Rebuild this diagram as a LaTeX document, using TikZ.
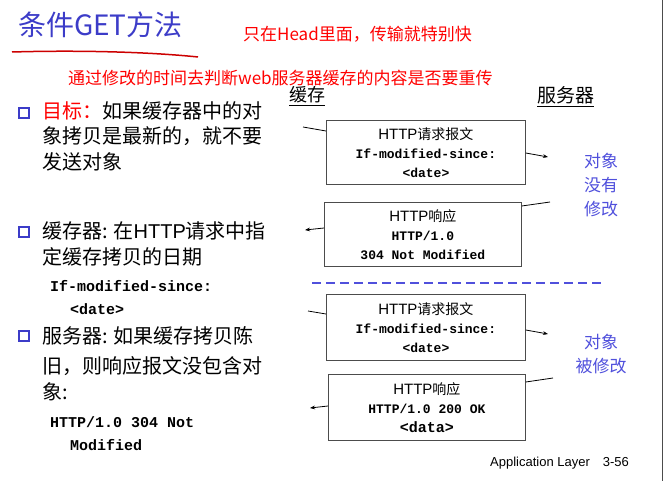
\documentclass[tikz,border=0pt]{standalone}
\usepackage{fontspec}
\setmainfont{Noto Sans CJK SC}
\newfontfamily\hv{Liberation Sans}
\newfontfamily\mono{Liberation Mono}
\usetikzlibrary{arrows.meta}
\definecolor{tblue}{RGB}{60,60,200}
\definecolor{lblue}{RGB}{80,80,220}
\begin{document}
\begin{tikzpicture}[x=1pt,y=-1pt,
  txt/.style={anchor=base west,inner sep=0pt,font=\fontsize{20}{20}\selectfont},
  mtxt/.style={anchor=base west,inner sep=0pt,font=\mono\bfseries\fontsize{15}{15}\selectfont},
  msg/.style={draw=black!70,thick,minimum width=199pt,minimum height=64pt,align=center,inner sep=0pt,font=\fontsize{13}{19}\selectfont},
  ln/.style={black,thick},
  ar/.style={black,thick,-{Stealth[length=5pt]}},
  bul/.style={draw=tblue,line width=1.6pt,minimum size=10pt,inner sep=0pt}]
\useasboundingbox (0,0) rectangle (664,481);
\draw[black!70] (662,0) -- (662,481);
\node[anchor=base west,inner sep=0pt,text=tblue,font=\fontsize{28}{28}\selectfont] (title) at (18,36) {条件GET方法};
\draw[red!80!black,line width=1.5pt] (12,52) .. controls (80,50) and (150,52) .. (198,57);
\node[anchor=base west,inner sep=0pt,text=red,font=\fontsize{17}{17}\selectfont] (n1) at (243,41) {只在Head里面，传输就特别快};
\node[anchor=base west,inner sep=0pt,text=red,font=\fontsize{17}{17}\selectfont] (n2) at (68,85) {通过修改的时间去判断web服务器缓存的内容是否要重传};
\node[txt,font=\fontsize{18}{18}\selectfont] (cache) at (289,102) {\underline{缓存}};
\node[txt,font=\fontsize{19}{19}\selectfont] (srv) at (537,103) {\underline{服务器}};
% bullets
\node[bul] (b1) at (24,113) {};
\node[txt] (t1) at (42,119) {\textcolor{red}{目标：}如果缓存器中的对};
\node[txt] (t1b) at (42,144) {象拷贝是最新的，就不要};
\node[txt] (t1c) at (42,170) {发送对象};
\node[bul] (b2) at (24,232) {};
\node[txt] (t2) at (42,239) {缓存器: 在{\hv HTTP}请求中指};
\node[txt] (t2b) at (42,264) {定缓存拷贝的日期};
\node[mtxt] (t2c) at (50,291) {If-modified-since:};
\node[mtxt] (t2d) at (70,314) {<date>};
\node[bul] (b3) at (24,336) {};
\node[txt] (t3) at (42,343) {服务器: 如果缓存拷贝陈};
\node[txt] (t3b) at (42,373) {旧，则响应报文没包含对};
\node[txt] (t3c) at (42,399) {象:};
\node[mtxt] (t3d) at (50,427) {HTTP/1.0 304 Not};
\node[mtxt] (t3e) at (70,450) {Modified};
% boxes
\node[msg,anchor=north west] (m1) at (326,120) {{\hv\fontsize{15}{18}\selectfont HTTP}{\fontsize{14}{18}\selectfont 请求报文}\\{\mono\bfseries If-modified-since:}\\{\mono\bfseries <date>}};
\node[msg,anchor=north west,minimum width=197pt] (m2) at (324,202) {{\hv\fontsize{15}{18}\selectfont HTTP}{\fontsize{14}{18}\selectfont 响应}\\{\mono\bfseries HTTP/1.0}\\{\mono\bfseries 304 Not Modified}};
\node[msg,anchor=north west,minimum height=66pt] (m3) at (326,294) {{\hv\fontsize{15}{18}\selectfont HTTP}{\fontsize{14}{18}\selectfont 请求报文}\\{\mono\bfseries If-modified-since:}\\{\mono\bfseries <date>}};
\node[msg,anchor=north west,minimum width=197pt,minimum height=66pt] (m4) at (328,374) {{\hv\fontsize{15}{18}\selectfont HTTP}{\fontsize{14}{18}\selectfont 响应}\\{\mono\bfseries HTTP/1.0 200 OK}\\{\mono\bfseries\fontsize{15}{19}\selectfont <data>}};
\draw[lblue,line width=2pt,dash pattern=on 9pt off 5pt] (312,283) -- (604,283);
% connectors
\coordinate (c1) at (303,127); \coordinate (c2) at (548,157);
\coordinate (c3) at (550,202); \coordinate (c4) at (305,230);
\coordinate (c5) at (308,311); \coordinate (c6) at (548,334);
\coordinate (c7) at (553,378); \coordinate (c8) at (310,408);
\draw[ln] (c1) -- (m1.west|-0,131);
\draw[ar] (m1.east|-0,153) -- (c2);
\draw[ln] (c3) -- (m2.east|-0,206);
\draw[ar] (m2.west|-0,228) -- (c4);
\draw[ln] (c5) -- (m3.west|-0,314);
\draw[ar] (m3.east|-0,330) -- (c6);
\draw[ln] (c7) -- (m4.east|-0,382);
\draw[ar] (m4.west|-0,406) -- (c8);
\node[align=left,text=lblue,font=\fontsize{17}{24}\selectfont,inner sep=0pt] (s1) at (601,185) {对象\\没有\\修改};
\node[align=center,text=lblue,font=\fontsize{17}{24}\selectfont,inner sep=0pt] (s2) at (601,354) {对象\\被修改};
\node[anchor=base west,inner sep=0pt,font=\hv\fontsize{13}{13}\selectfont] (foot) at (490,466) {Application Layer\quad 3-56};
\end{tikzpicture}
\end{document}
